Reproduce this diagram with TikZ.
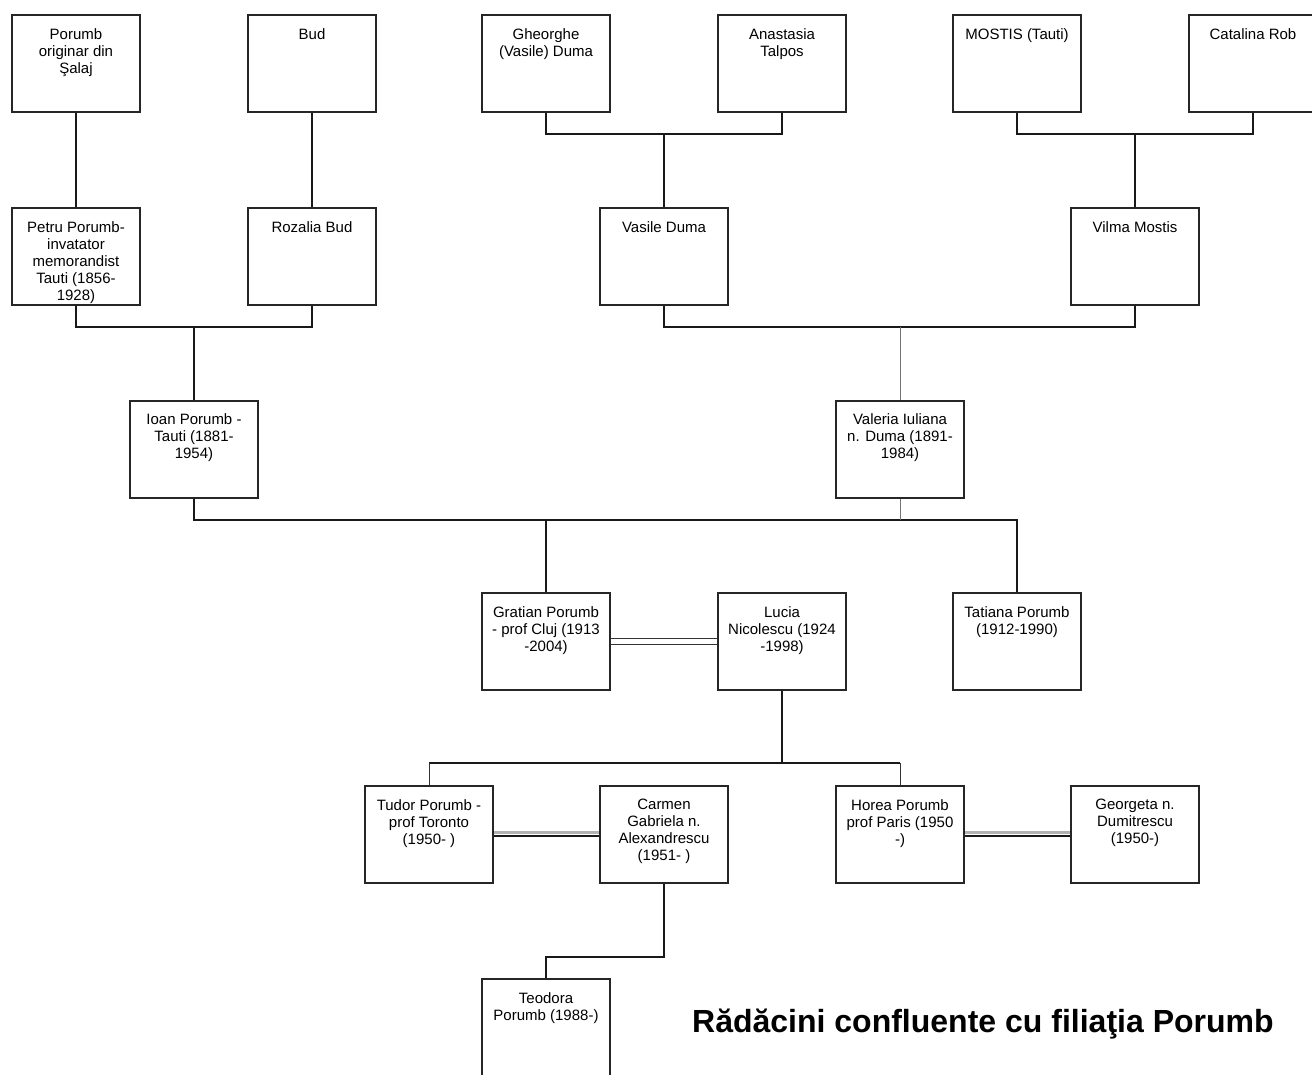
\documentclass[tikz,border=0pt]{standalone}
\usepackage{fontspec}
\setmainfont{Liberation Sans}
\usetikzlibrary{positioning, calc}

\begin{document}
\begin{tikzpicture}[
    x=1pt, y=-1pt,
    node distance=94pt and 105pt,
    box/.style={rectangle, draw=black!85, line width=2pt, inner sep=0pt, font=\fontsize{15}{17}\selectfont,
        execute at begin node={\begin{minipage}[c][97pt][t]{128pt}\centering\vspace*{13.5pt}},
        execute at end node={\end{minipage}}},
    link/.style={line width=2.2pt, black!90},
    thinlink/.style={line width=0.9pt, black!55},
    wed/.style={double, double distance=4.5pt, line width=0.9pt, black!80},
    wedtop/.style={line width=2.4pt, black!30},
    wedbot/.style={line width=1.6pt, black!90},
    title/.style={font=\fontsize{32}{38}\selectfont\bfseries, inner sep=0pt}
]
\useasboundingbox (0,0) rectangle (1312,1075);

\node[box] (porumb) at (76,63.5) {Porumb\\originar din\\Şalaj};
\node[box] (bud) at (312,63.5) {Bud};
\node[box] (gheorghe) at (546,63.5) {Gheorghe\\(Vasile) Duma};
\node[box] (anastasia) at (782,63.5) {Anastasia\\Talpos};
\node[box] (mostis) at (1017,63.5) {MOSTIS (Tauti)};
\node[box] (catalina) at (1253,63.5) {Catalina Rob};

\node[box, below=of porumb] (petru) {Petru Porumb-\\invatator\\memorandist\\Tauti (1856-\\1928)};
\node[box, below=of bud] (rozalia) {Rozalia Bud};
\node[box] (vasile) at (664,256.5) {Vasile Duma};
\node[box] (vilma) at (1135,256.5) {Vilma Mostis};

\node[box] (ioan) at (194,449) {Ioan Porumb -\\Tauti (1881-\\1954)};
\node[box] (valeria) at (900,449) {Valeria Iuliana\\n. Duma (1891-\\1984)};

\node[box] (gratian) at (546,641.5) {Gratian Porumb\\- prof Cluj (1913\\-2004)};
\node[box] (lucia) at (782,641.5) {Lucia\\Nicolescu (1924\\-1998)};
\node[box] (tatiana) at (1017,641.5) {Tatiana Porumb\\(1912-1990)};

\node[box] (tudor) at (429,834.5) {Tudor Porumb -\\prof Toronto\\(1950- )};
\node[box] (carmen) at (664,834.5) {Carmen\\Gabriela n.\\Alexandrescu\\(1951- )};
\node[box] (horea) at (900,834.5) {Horea Porumb\\prof Paris (1950\\-)};
\node[box] (georgeta) at (1135,834.5) {Georgeta n.\\Dumitrescu\\(1950-)};

\node[box, below=of gratian |- tudor.south, anchor=north] (teodora) {Teodora\\Porumb (1988-)};

\node[title, anchor=base west] (titlu) at (692,1032) {Rădăcini confluente cu filiaţia Porumb};

\coordinate (j1) at (664,134);
\coordinate (j2) at (1135,134);
\coordinate (j3) at (194,327);
\coordinate (j4) at (900,327);
\coordinate (j5) at (546,520);
\coordinate (j6) at (900,520);
\coordinate (j7a) at (429,763);
\coordinate (j7b) at (900,763);
\coordinate (j7) at (782,763);
\coordinate (j8) at (546,957);

\draw[link] (porumb) -- (petru);
\draw[link] (bud) -- (rozalia);
\draw[link] (gheorghe.south) |- (j1) -| (anastasia.south);
\draw[link] (j1) -- (vasile);
\draw[link] (mostis.south) |- (j2) -| (catalina.south);
\draw[link] (j2) -- (vilma);
\draw[link] (petru.south) |- (j3) -| (rozalia.south);
\draw[link] (j3) -- (ioan);
\draw[link] (vasile.south) |- (j4) -| (vilma.south);
\draw[thinlink] (j4) -- (valeria);
\draw[link] (ioan.south) |- (j5) -- (gratian);
\draw[link] (j5) -| (tatiana.north);
\draw[thinlink] (valeria) -- (j6);
\draw[wed] (gratian) -- (lucia);
\draw[link] (lucia.south) -- (j7);
\draw[link] (j7a) -- (j7b);
\draw[thinlink, black!80] (j7a) -- (tudor);
\draw[thinlink, black!80] (j7b) -- (horea);
\draw[wedtop] ([yshift=2.2pt]tudor.east) -- ([yshift=2.2pt]carmen.west);
\draw[wedbot] ([yshift=-1.6pt]tudor.east) -- ([yshift=-1.6pt]carmen.west);
\draw[wedtop] ([yshift=2.2pt]horea.east) -- ([yshift=2.2pt]georgeta.west);
\draw[wedbot] ([yshift=-1.6pt]horea.east) -- ([yshift=-1.6pt]georgeta.west);
\draw[link] (carmen.south) |- (j8) -- (teodora);

\end{tikzpicture}
\end{document}
